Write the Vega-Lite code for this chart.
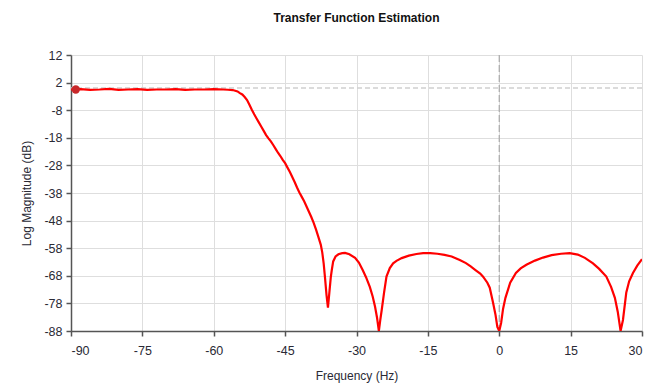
{
  "$schema": "https://vega.github.io/schema/vega-lite/v6.json",
  "autosize": "none",
  "width": 571,
  "height": 276,
  "padding": {"left": 71, "top": 55, "right": 17, "bottom": 59},
  "background": "white",
  "title": {"text": "Transfer Function Estimation", "font": "Liberation Sans", "fontSize": 12, "fontWeight": "bold", "color": "#111", "offset": 24, "anchor": "middle"},
  "config": {
    "view": {"stroke": null},
    "axis": {"labelFont": "Liberation Sans", "labelFontSize": 12.5, "labelColor": "#2a2a35", "labelOverlap": false, "titleFont": "Liberation Sans", "titleFontSize": 12, "titleFontWeight": "normal", "titleColor": "#2a2a35", "gridColor": "#dedede", "gridWidth": 1, "domainColor": "#555", "domainWidth": 1.5, "tickColor": "#555", "tickWidth": 1.5, "tickSize": 5}
  },
  "datasets": {
    "curve": [
      {"f": -90, "db": -0.5}, {"f": -88, "db": -0.4}, {"f": -86, "db": -0.6}, {"f": -84, "db": -0.5}, {"f": -82, "db": -0.3}, {"f": -80, "db": -0.6}, {"f": -78, "db": -0.5}, {"f": -76, "db": -0.4}, {"f": -74, "db": -0.6}, {"f": -72, "db": -0.5}, {"f": -70, "db": -0.5}, {"f": -68, "db": -0.4}, {"f": -66, "db": -0.6}, {"f": -64, "db": -0.5}, {"f": -62, "db": -0.5}, {"f": -60, "db": -0.4}, {"f": -58, "db": -0.5},
      {"f": -57, "db": -0.6}, {"f": -56, "db": -0.7}, {"f": -55, "db": -1.2}, {"f": -54.5, "db": -1.8}, {"f": -54, "db": -2.3}, {"f": -53.5, "db": -3.2}, {"f": -53, "db": -4.3}, {"f": -52.5, "db": -6.0}, {"f": -52, "db": -7.8}, {"f": -51.5, "db": -9.5}, {"f": -51, "db": -11.0}, {"f": -50.5, "db": -12.5}, {"f": -50, "db": -14.0}, {"f": -49.5, "db": -15.5}, {"f": -49, "db": -17.0}, {"f": -48.5, "db": -18.2}, {"f": -48, "db": -19.3}, {"f": -47.5, "db": -20.6}, {"f": -47, "db": -22.0}, {"f": -46.5, "db": -23.4}, {"f": -46, "db": -24.6}, {"f": -45.5, "db": -26.0}, {"f": -45, "db": -27.2}, {"f": -44.5, "db": -28.8}, {"f": -44, "db": -30.4}, {"f": -43.5, "db": -32.2}, {"f": -43, "db": -34.0}, {"f": -42.5, "db": -36.0}, {"f": -42, "db": -37.8}, {"f": -41.5, "db": -39.4}, {"f": -41, "db": -41.0}, {"f": -40.5, "db": -42.9}, {"f": -40, "db": -44.8}, {"f": -39.5, "db": -46.7}, {"f": -39, "db": -48.8}, {"f": -38.5, "db": -51.3}, {"f": -38, "db": -54.0}, {"f": -37.5, "db": -56.8}, {"f": -37.2, "db": -59.5}, {"f": -36.9, "db": -63.5}, {"f": -36.6, "db": -69}, {"f": -36.3, "db": -75}, {"f": -36.0, "db": -79.5},
      {"f": -35.7, "db": -74}, {"f": -35.4, "db": -68.5}, {"f": -35.2, "db": -66}, {"f": -34.9, "db": -62.8}, {"f": -34.4, "db": -61.0}, {"f": -33.8, "db": -60.2}, {"f": -33, "db": -59.8}, {"f": -32.4, "db": -59.7}, {"f": -31.5, "db": -60.2}, {"f": -30.3, "db": -61.5}, {"f": -29.5, "db": -63.2}, {"f": -28.7, "db": -65.9}, {"f": -28, "db": -68.5}, {"f": -27.2, "db": -72}, {"f": -26.6, "db": -75.5}, {"f": -26.1, "db": -79.2}, {"f": -25.7, "db": -83}, {"f": -25.3, "db": -88},
      {"f": -25, "db": -84}, {"f": -24.7, "db": -80.4}, {"f": -24.2, "db": -74}, {"f": -23.7, "db": -68.3}, {"f": -23, "db": -65.2}, {"f": -22.3, "db": -63.5}, {"f": -21.6, "db": -62.6}, {"f": -20.5, "db": -61.6}, {"f": -19, "db": -60.7}, {"f": -17.4, "db": -60.1}, {"f": -16, "db": -59.8}, {"f": -14.5, "db": -59.8}, {"f": -13, "db": -60.0}, {"f": -11.5, "db": -60.4}, {"f": -10, "db": -61.0}, {"f": -8.3, "db": -62.3}, {"f": -7, "db": -63.4}, {"f": -6, "db": -64.6}, {"f": -5, "db": -65.9}, {"f": -4, "db": -67.2}, {"f": -3.4, "db": -68.3}, {"f": -2.5, "db": -70.5}, {"f": -2, "db": -72.3}, {"f": -1.3, "db": -77.8}, {"f": -0.8, "db": -82}, {"f": -0.4, "db": -86.5}, {"f": 0, "db": -88},
      {"f": 0.4, "db": -85}, {"f": 0.8, "db": -80}, {"f": 1.3, "db": -76}, {"f": 2.3, "db": -70.5}, {"f": 3.5, "db": -67}, {"f": 4.5, "db": -65.3}, {"f": 5.7, "db": -64}, {"f": 7.5, "db": -62.5}, {"f": 9.2, "db": -61.4}, {"f": 11, "db": -60.5}, {"f": 13, "db": -60}, {"f": 14.8, "db": -59.8}, {"f": 16.5, "db": -60.3}, {"f": 18, "db": -61.5}, {"f": 19.7, "db": -63.5}, {"f": 21, "db": -65.5}, {"f": 22.5, "db": -68.3}, {"f": 23.5, "db": -72}, {"f": 24.3, "db": -76}, {"f": 24.9, "db": -81}, {"f": 25.5, "db": -88},
      {"f": 26, "db": -84}, {"f": 26.7, "db": -74}, {"f": 27.3, "db": -70}, {"f": 28.1, "db": -67}, {"f": 29, "db": -64.3}, {"f": 30, "db": -62}
    ],
    "hline": [{"db": 0}],
    "vline": [{"f": 0}],
    "marker": [{"f": -89, "db": -0.5}]
  },
  "layer": [
    {
      "data": {"name": "hline"},
      "mark": {"type": "rule", "color": "#cfcfcf", "strokeWidth": 1.5, "strokeDash": [5, 3]},
      "encoding": {"y": {"field": "db", "type": "quantitative", "scale": {"domain": [-88, 12], "nice": false}}}
    },
    {
      "data": {"name": "vline"},
      "mark": {"type": "rule", "color": "#aaaaaa", "strokeWidth": 1.2, "strokeDash": [7, 3]},
      "encoding": {"x": {"field": "f", "type": "quantitative", "scale": {"domain": [-90, 30], "nice": false}}}
    },
    {
      "data": {"name": "curve"},
      "mark": {"type": "line", "color": "#ff0000", "strokeWidth": 2.2, "clip": true},
      "encoding": {
        "x": {"field": "f", "type": "quantitative", "scale": {"domain": [-90, 30], "nice": false}, "axis": {"values": [-90, -75, -60, -45, -30, -15, 0, 15, 30], "tickCount": 20, "labelExpr": "'' + datum.value", "labelOverlap": false, "title": "Frequency (Hz)", "labelPadding": 8, "titlePadding": 14, "grid": true}},
        "y": {"field": "db", "type": "quantitative", "scale": {"domain": [-88, 12], "nice": false}, "axis": {"values": [12, 2, -8, -18, -28, -38, -48, -58, -68, -78, -88], "tickCount": 20, "labelExpr": "'' + datum.value", "labelOverlap": false, "title": "Log Magnitude (dB)", "labelPadding": 4, "titlePadding": 10, "grid": true}}
      }
    },
    {
      "data": {"name": "marker"},
      "mark": {"type": "point", "filled": true, "color": "#c8282a", "size": 70, "opacity": 1},
      "encoding": {
        "x": {"field": "f", "type": "quantitative"},
        "y": {"field": "db", "type": "quantitative"}
      }
    }
  ]
}
